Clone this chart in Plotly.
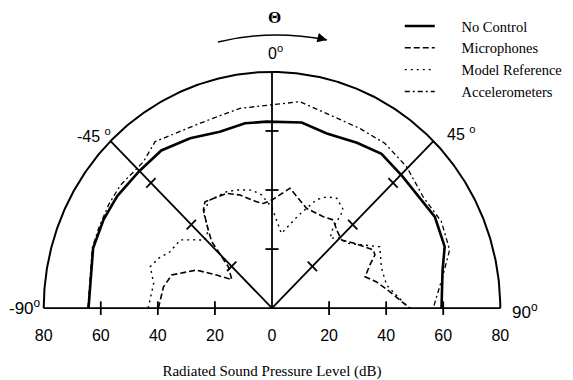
import numpy as np
import plotly.graph_objects as go

# ---- data (angle in degrees from 0 = front, radius in dB) ----
theta_no_control = [-90, -72, -63, -55, -45, -36, -26.5, -17, -8.6, -1.7, 9.4, 18, 28, 36.3, 45.6, 61.6, 71, 78, 90]
r_no_control = [64.3, 65.9, 66.2, 66.2, 65.7, 66.0, 64.3, 62.5, 63.3, 63.2, 63.7, 62.2, 63.4, 64.8, 63.9, 64.9, 64.0, 61.1, 59.4]

theta_microphones = [-90, -79.3, -72.3, -64, -60, -55.5, -47.6, -45.3, -43.2, -40.2, -35.9, -33.1, -27.2, -22.2,
                     -16.3, -8.5, -5, 0, 8.8, 19.7, 30.1, 35.8, 40.7, 46.6, 53, 61, 63.5, 66.9, 72, 76.4, 82.4, 90]
r_microphones = [39.8, 38.7, 36.9, 29.4, 22.4, 17.1, 20.7, 24.8, 30.8, 34.6, 41.0, 43.0, 42.4, 42.0,
                 39.9, 36.4, 35.6, 36.6, 41.1, 35.9, 35.8, 36.8, 34.8, 33.6, 36.4, 40.6, 40.3, 37.3, 34.3, 37.7, 41.7, 48.3]

theta_model_ref = [-90, -78.6, -71.8, -67, -61.9, -54.3, -50, -45.5, -40.2, -36.4, -30.7, -22, -17.2, -10.1, -5.4,
                   0, 7.4, 16.5, 23, 27, 31.4, 37, 38.3, 40.6, 45, 50, 56.1, 61.2, 70.5, 79, 90]
r_model_ref = [43.4, 42.3, 44.9, 43.2, 40.5, 39.6, 36.0, 32.9, 34.6, 40.5, 42.6, 42.5, 41.9, 40.6, 38.5,
               34.0, 25.5, 32.8, 39.9, 42.3, 43.6, 41.6, 34.5, 31.2, 33.6, 34.2, 38.4, 43.1, 40.7, 40.9, 48.0]

theta_accel = [-90, -72, -66, -58.6, -55.6, -52, -42.3, -36, -21.9, -9.4, -0.6, 8, 17.2, 26.8, 35.3, 44.6, 54.6,
               63.7, 72.4, 79.4, 90]
r_accel = [64.5, 66.2, 66.5, 67.1, 67.2, 67.5, 67.0, 69.7, 67.5, 68.6, 68.8, 70.6, 68.5, 68.2, 68.4, 67.2, 65.0,
           66.2, 65.3, 61.0, 56.5]

tick_vals = [-80, -60, -40, -20, 0, 20, 40, 60, 80]
tick_text = ["80", "60", "40", "20", "0", "20", "40", "60", "80"]
spoke_angles = [-45, 0, 45]
ring_ticks = [20, 40, 60]
outer_radius = 80


def to_xy(theta, r):
    t = np.radians(np.asarray(theta, dtype=float))
    r = np.asarray(r, dtype=float)
    return r * np.sin(t), r * np.cos(t)


fig = go.Figure()

# ---- frame: outer arc, spokes, baseline, ticks ----
arc_t = np.linspace(-90, 90, 361)
ax_, ay_ = to_xy(arc_t, np.full_like(arc_t, outer_radius))
fig.add_trace(go.Scatter(x=ax_, y=ay_, mode="lines", line=dict(color="black", width=2),
                         showlegend=False, hoverinfo="skip"))

fx, fy = [-outer_radius, outer_radius, None], [0, 0, None]
for a in spoke_angles:
    ex, ey = to_xy([a], [outer_radius])
    fx += [0, float(ex[0]), None]
    fy += [0, float(ey[0]), None]
fig.add_trace(go.Scatter(x=fx, y=fy, mode="lines", line=dict(color="black", width=1.8),
                         showlegend=False, hoverinfo="skip"))

h = 2.3
tx, ty = [], []
for a in spoke_angles:
    ar = np.radians(a)
    for rr in ring_ticks:
        cx, cy = rr * np.sin(ar), rr * np.cos(ar)
        px, py = np.cos(ar), -np.sin(ar)
        tx += [cx - h * px, cx + h * px, None]
        ty += [cy - h * py, cy + h * py, None]
for v in ring_ticks:
    for s in (-1, 1):
        tx += [s * v, s * v, None]
        ty += [-h, h, None]
fig.add_trace(go.Scatter(x=tx, y=ty, mode="lines", line=dict(color="black", width=1.8),
                         showlegend=False, hoverinfo="skip"))

# ---- data curves ----
pad = "\u00a0" * 6
series = [
    ("No Control", theta_no_control, r_no_control, dict(color="black", width=2.6, dash="solid")),
    ("Microphones", theta_microphones, r_microphones, dict(color="black", width=1.6, dash="6px,3px")),
    ("Model Reference", theta_model_ref, r_model_ref, dict(color="black", width=1.4, dash="2px,4px")),
    ("Accelerometers", theta_accel, r_accel, dict(color="black", width=1.3, dash="5px,3px,2px,3px")),
]
for name, th, rr, ln in series:
    x, y = to_xy(th, rr)
    fig.add_trace(go.Scatter(x=x, y=y, mode="lines", name=pad + name, line=ln))

# ---- labels (paper coordinates) ----
num_font = dict(family="Liberation Sans", size=16, color="black")
labels = [
    (0.5085, 1.0558, "0<sup>o</sup>", 16),
    (0.1197, 0.7251, "-45 <sup>o</sup>", 16),
    (0.9049, 0.7331, "45 <sup>o</sup>", 16),
    (-0.0278, 0.0398, "-90<sup>o</sup>", 17),
    (1.0406, 0.0239, "90<sup>o</sup>", 17),
]
for x, y, t, s in labels:
    fig.add_annotation(x=x, y=y, text=t, showarrow=False, xref="paper", yref="paper",
                       xanchor="center", yanchor="middle",
                       font=dict(family="Liberation Sans", size=s, color="black"))

fig.add_annotation(x=0.5043, y=1.1952, text="<b>\u0398</b>", showarrow=False, xref="paper", yref="paper",
                   xanchor="center", yanchor="middle",
                   font=dict(family="Liberation Serif", size=17, color="black"))

# curved arrow above the 0 degree label
fig.add_shape(type="path", xref="paper", yref="paper",
              path="M 0.3846,1.0956 Q 0.4957,1.1474 0.6175,1.1036",
              line=dict(color="black", width=1.6))
fig.add_annotation(x=0.6175, y=1.1036, xref="paper", yref="paper", ax=-8, ay=-2, text="",
                   showarrow=True, arrowhead=2, arrowsize=1.2, arrowwidth=1.6, arrowcolor="black")

fig.update_layout(
    width=565, height=372,
    margin=dict(l=30, r=67, t=58, b=63, autoexpand=False),
    paper_bgcolor="white", plot_bgcolor="white",
    xaxis=dict(range=[-82, 82], showgrid=False, zeroline=False, showline=False, automargin=False,
               tickmode="array", tickvals=tick_vals, ticktext=tick_text, ticks="",
               tickfont=num_font, ticklabelstandoff=7,
               title=dict(text="Radiated Sound Pressure Level (dB)", standoff=23,
                          font=dict(family="Liberation Serif", size=15, color="black"))),
    yaxis=dict(range=[-3, 82], visible=False, automargin=False),
    legend=dict(x=0.773, y=1.223, xanchor="left", yanchor="top", bgcolor="rgba(0,0,0,0)",
                font=dict(family="Liberation Serif", size=14.5, color="black"),
                tracegroupgap=0),
    showlegend=True,
)

fig.write_html("out.html")
